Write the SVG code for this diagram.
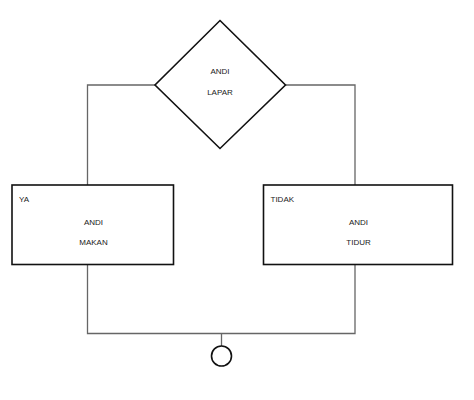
<svg xmlns="http://www.w3.org/2000/svg" width="474" height="400" viewBox="0 0 474 400">
<style>
.shape{fill:#fff;stroke:#111;stroke-width:1.6}
.conn{fill:none;stroke:#666;stroke-width:1.3}
text{font-family:"Liberation Sans",Arial,sans-serif;font-size:8px;fill:#222}
.c{text-anchor:middle}
</style>
<rect width="474" height="400" fill="#fff"/>
<g id="connectors">
<polyline class="conn" points="155,85 87.5,85 87.5,185"/>
<polyline class="conn" points="285.5,85 355,85 355,185"/>
<polyline class="conn" points="87.5,264.5 87.5,333.5 355,333.5 355,264.5"/>
<line class="conn" x1="221.5" y1="333.5" x2="221.5" y2="346"/>
</g>
<g id="decision">
<polygon class="shape" points="220,20.5 285.5,85 220,148.5 155,85"/>
<text class="c" x="220" y="74">ANDI</text>
<text class="c" x="220" y="94.5">LAPAR</text>
</g>
<g id="makan">
<rect class="shape" x="12" y="185" width="161.5" height="79.5"/>
<text x="19" y="202">YA</text>
<text class="c" x="93.5" y="224.5">ANDI</text>
<text class="c" x="93.5" y="244.5">MAKAN</text>
</g>
<g id="tidur">
<rect class="shape" x="263.5" y="185" width="189" height="79.5"/>
<text x="270.5" y="202">TIDAK</text>
<text class="c" x="358.5" y="224.5">ANDI</text>
<text class="c" x="358.5" y="244.5">TIDUR</text>
</g>
<g id="end">
<circle class="shape" cx="221.5" cy="356" r="10"/>
</g>
</svg>
